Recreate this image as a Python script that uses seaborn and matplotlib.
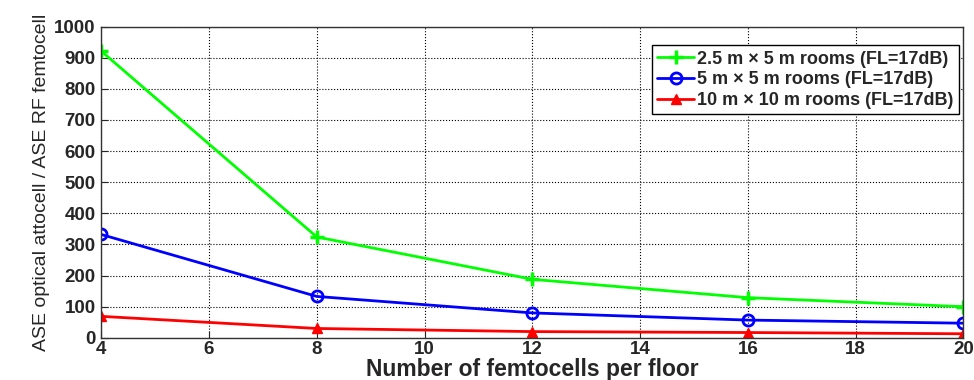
import numpy as np
import pandas as pd
import matplotlib
import matplotlib.pyplot as plt
import seaborn as sns

matplotlib.use('Agg')

# values
femtocells = [4, 8, 12, 16, 20]
ase_small = [921, 324, 188, 129, 100]   # 2.5 m x 5 m rooms
ase_medium = [332, 133, 80, 57, 47]     # 5 m x 5 m rooms
ase_large = [69, 30, 20, 17, 13]        # 10 m x 10 m rooms

labels = ['2.5 m \u00d7 5 m rooms (FL=17dB)',
          '5 m \u00d7 5 m rooms (FL=17dB)',
          '10 m \u00d7 10 m rooms (FL=17dB)']

sns.set_style('ticks')
plt.rcParams['font.family'] = ['Liberation Sans', 'DejaVu Sans']

fig = plt.figure(figsize=(9.74, 3.8), dpi=100)
ax = fig.add_axes([0.104, 0.111, 0.885, 0.819])

# one call per series so each keeps its own MATLAB-style marker
styles = [
    (ase_small, '#00ff00', '+', dict(markersize=10, markeredgewidth=2.5, mfc='#00ff00')),
    (ase_medium, '#0000ff', 'o', dict(markersize=8, markeredgewidth=2, mfc='none')),
    (ase_large, '#ff0000', '^', dict(markersize=7, markeredgewidth=1, mfc='#ff0000')),
]
for (vals, col, mk, kw), lab in zip(styles, labels):
    sns.lineplot(x=femtocells, y=vals, color=col, marker=mk, mec=col,
                 linewidth=2, label=lab, ax=ax, **kw)

ax.set_xlim(4, 20)
ax.set_ylim(0, 1000)
ax.set_xticks(range(4, 21, 2))
ax.set_yticks(range(0, 1001, 100))
ax.grid(True, color='black', linestyle=':', linewidth=0.8)
for sp in ax.spines.values():
    sp.set_visible(True)
    sp.set_color('#333333')
    sp.set_linewidth(1)
ax.tick_params(direction='in', length=5, labelsize=13.5, top=False, right=False)
ax.tick_params(axis='x', pad=2)
ax.tick_params(axis='y', pad=4)
for t in ax.get_xticklabels() + ax.get_yticklabels():
    t.set_fontweight('bold')

ax.set_xlabel('Number of femtocells per floor', fontsize=16.5, fontweight='bold', labelpad=0)
ax.set_ylabel('ASE optical attocell / ASE RF femtocell', fontsize=14, labelpad=3)

leg = ax.legend(loc='upper right', bbox_to_anchor=(0.995, 0.94),
                frameon=True, fancybox=False, framealpha=1, edgecolor='black',
                handlelength=2.0, handletextpad=0.2, borderpad=0.3, labelspacing=0.2,
                borderaxespad=0, prop={'weight': 'bold', 'size': 13})
leg.get_frame().set_linewidth(1)

plt.savefig('out.png', dpi=100)
